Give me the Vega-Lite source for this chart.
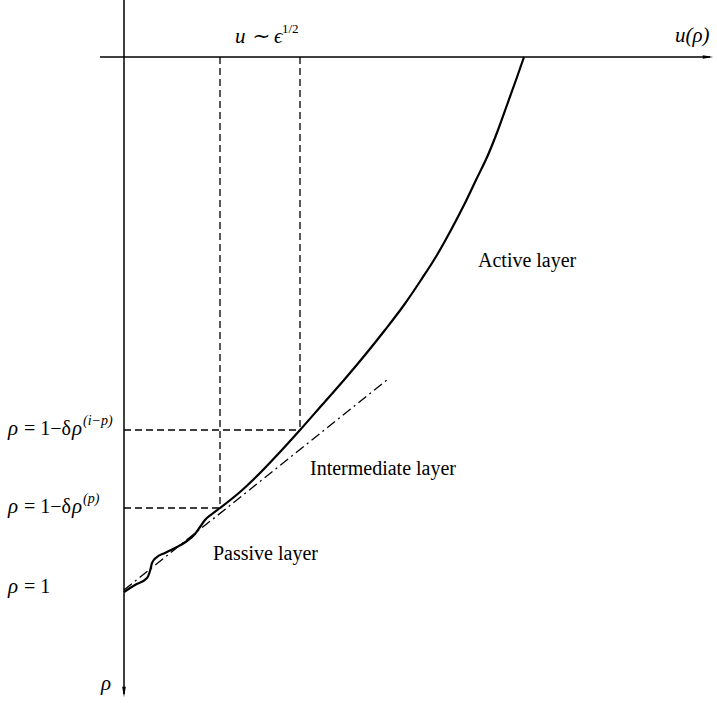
{
  "$schema": "https://vega.github.io/schema/vega-lite/v6.json",
  "width": 717,
  "height": 706,
  "padding": 0,
  "autosize": {"type": "none"},
  "background": "white",
  "config": {"view": {"stroke": null}},
  "datasets": {
    "axes": [
      {"id": "h", "o": 0, "x": 100, "y": 57},
      {"id": "h", "o": 1, "x": 710, "y": 57},
      {"id": "v", "o": 0, "x": 124, "y": 0},
      {"id": "v", "o": 1, "x": 124, "y": 694}
    ],
    "arrowR": [{"x": 708, "y": 57}],
    "arrowD": [{"x": 124, "y": 692}],
    "dashed": [
      {"id": "v1", "o": 0, "x": 220, "y": 57},
      {"id": "v1", "o": 1, "x": 220, "y": 508},
      {"id": "v2", "o": 0, "x": 300, "y": 57},
      {"id": "v2", "o": 1, "x": 300, "y": 430},
      {"id": "h1", "o": 0, "x": 124, "y": 430},
      {"id": "h1", "o": 1, "x": 300, "y": 430},
      {"id": "h2", "o": 0, "x": 124, "y": 508},
      {"id": "h2", "o": 1, "x": 220, "y": 508}
    ],
    "dashdot": [
      {"o": 0, "x": 124, "y": 590},
      {"o": 1, "x": 387, "y": 380}
    ],
    "curve": [
      {"o": 0, "x": 124, "y": 592},
      {"o": 1, "x": 135, "y": 585},
      {"o": 2, "x": 147, "y": 578},
      {"o": 3, "x": 150, "y": 571},
      {"o": 4, "x": 152, "y": 563},
      {"o": 5, "x": 157, "y": 557},
      {"o": 6, "x": 165, "y": 553},
      {"o": 7, "x": 175, "y": 548},
      {"o": 8, "x": 187, "y": 541},
      {"o": 9, "x": 195, "y": 534},
      {"o": 10, "x": 200, "y": 527},
      {"o": 11, "x": 205, "y": 520},
      {"o": 12, "x": 212, "y": 514},
      {"o": 13, "x": 220, "y": 508},
      {"o": 14, "x": 240, "y": 492},
      {"o": 15, "x": 260, "y": 473},
      {"o": 16, "x": 280, "y": 452},
      {"o": 17, "x": 300, "y": 430},
      {"o": 18, "x": 322, "y": 405},
      {"o": 19, "x": 344, "y": 380},
      {"o": 20, "x": 365, "y": 355},
      {"o": 21, "x": 385, "y": 330},
      {"o": 22, "x": 404, "y": 305},
      {"o": 23, "x": 421, "y": 280},
      {"o": 24, "x": 437, "y": 255},
      {"o": 25, "x": 451, "y": 230},
      {"o": 26, "x": 464, "y": 205},
      {"o": 27, "x": 476, "y": 180},
      {"o": 28, "x": 488, "y": 155},
      {"o": 29, "x": 498, "y": 130},
      {"o": 30, "x": 507, "y": 105},
      {"o": 31, "x": 516, "y": 80},
      {"o": 32, "x": 524, "y": 57}
    ],
    "labels": [
      {"x": 478, "y": 267, "t": "Active layer"},
      {"x": 310, "y": 475, "t": "Intermediate layer"},
      {"x": 213, "y": 560, "t": "Passive layer"},
      {"x": 24, "y": 435, "t": "= 1−δ"},
      {"x": 24, "y": 513, "t": "= 1−δ"},
      {"x": 24, "y": 593, "t": "= 1"}
    ],
    "italic": [
      {"x": 235, "y": 43, "t": "u ∼ ϵ"},
      {"x": 675, "y": 42, "t": "u(ρ)"},
      {"x": 101, "y": 690, "t": "ρ"},
      {"x": 8, "y": 435, "t": "ρ"},
      {"x": 72, "y": 435, "t": "ρ"},
      {"x": 8, "y": 513, "t": "ρ"},
      {"x": 72, "y": 513, "t": "ρ"},
      {"x": 8, "y": 593, "t": "ρ"}
    ],
    "sup": [
      {"x": 282, "y": 33, "t": "1/2"}
    ],
    "supItalic": [
      {"x": 83, "y": 425, "t": "(i−p)"},
      {"x": 83, "y": 503, "t": "(p)"}
    ]
  },
  "encoding": {
    "x": {"field": "x", "type": "quantitative", "scale": {"domain": [0, 717], "nice": false, "zero": false}, "axis": null},
    "y": {"field": "y", "type": "quantitative", "scale": {"domain": [0, 706], "nice": false, "zero": false, "reverse": true}, "axis": null}
  },
  "layer": [
    {
      "data": {"name": "axes"},
      "mark": {"type": "line", "color": "black", "strokeWidth": 1.5},
      "encoding": {"detail": {"field": "id"}, "order": {"field": "o", "type": "quantitative"}}
    },
    {
      "data": {"name": "arrowR"},
      "mark": {"type": "point", "shape": "M-1,-0.35L1,0L-1,0.35Z", "filled": true, "color": "black", "size": 110, "opacity": 1}
    },
    {
      "data": {"name": "arrowD"},
      "mark": {"type": "point", "shape": "M-0.35,-1L0,1L0.35,-1Z", "filled": true, "color": "black", "size": 110, "opacity": 1}
    },
    {
      "data": {"name": "dashed"},
      "mark": {"type": "line", "color": "black", "strokeWidth": 1.3, "strokeDash": [7, 4]},
      "encoding": {"detail": {"field": "id"}, "order": {"field": "o", "type": "quantitative"}}
    },
    {
      "data": {"name": "dashdot"},
      "mark": {"type": "line", "color": "black", "strokeWidth": 1.3, "strokeDash": [10, 4, 2, 4]},
      "encoding": {"order": {"field": "o", "type": "quantitative"}}
    },
    {
      "data": {"name": "curve"},
      "mark": {"type": "line", "color": "black", "strokeWidth": 2.2, "interpolate": "monotone"},
      "encoding": {"order": {"field": "o", "type": "quantitative"}}
    },
    {
      "data": {"name": "labels"},
      "mark": {"type": "text", "align": "left", "baseline": "alphabetic", "font": "Liberation Serif", "fontSize": 20, "color": "black"},
      "encoding": {"text": {"field": "t"}}
    },
    {
      "data": {"name": "italic"},
      "mark": {"type": "text", "align": "left", "baseline": "alphabetic", "font": "Liberation Serif", "fontStyle": "italic", "fontSize": 21, "color": "black"},
      "encoding": {"text": {"field": "t"}}
    },
    {
      "data": {"name": "sup"},
      "mark": {"type": "text", "align": "left", "baseline": "alphabetic", "font": "Liberation Serif", "fontSize": 13, "color": "black"},
      "encoding": {"text": {"field": "t"}}
    },
    {
      "data": {"name": "supItalic"},
      "mark": {"type": "text", "align": "left", "baseline": "alphabetic", "font": "Liberation Serif", "fontStyle": "italic", "fontSize": 14, "color": "black"},
      "encoding": {"text": {"field": "t"}}
    }
  ]
}
